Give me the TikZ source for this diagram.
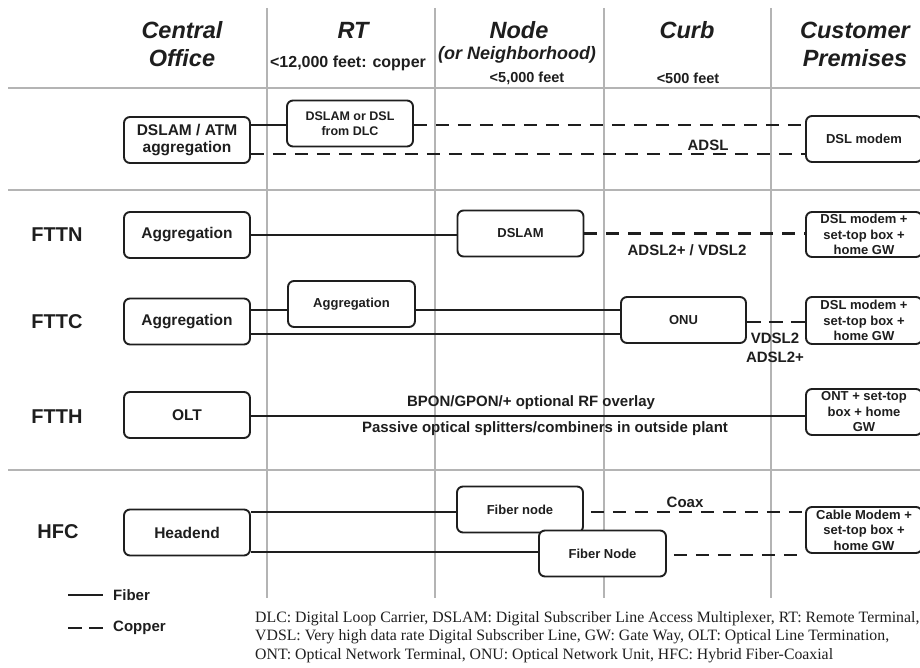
\documentclass[tikz,border=0pt]{standalone}
\usepackage{fontspec}
\setmainfont{Liberation Sans}
\newfontfamily\fnserif{Liberation Serif}
\definecolor{gridgray}{HTML}{B4B4B4}
\definecolor{ink}{HTML}{1E1E1E}
\tikzset{
  gridline/.style={draw=gridgray, line width=2.3pt},
  box/.style={draw=ink, line width=1.9pt, rounded corners=6pt, fill=white, align=center, inner sep=1pt, text=ink},
  cobox/.style={box, minimum width=126pt, minimum height=46pt, font=\fontsize{15.5}{17}\bfseries},
  smallbox/.style={box, minimum width=126pt, minimum height=46pt, font=\fontsize{13}{15.5}\bfseries},
  cpebox/.style={box, minimum width=116pt, minimum height=46pt, font=\fontsize{13}{15.5}\bfseries},
  fiber/.style={draw=ink, line width=2.5pt},
  copper/.style={draw=ink, line width=2.5pt, dash pattern=on 13pt off 9pt},
  hdr/.style={align=center, text=ink, font=\fontsize{23.5}{28}\bfseries\itshape, inner sep=0pt},
  sub/.style={align=center, text=ink, font=\fontsize{14.5}{17}\bfseries, inner sep=0pt},
  rowlbl/.style={text=ink, font=\fontsize{20}{24}\bfseries, inner sep=0pt},
  lbl/.style={text=ink, font=\fontsize{15}{18}\bfseries, inner sep=0pt, align=center},
}
\begin{document}
\begin{tikzpicture}[x=1pt,y=-1pt]
\useasboundingbox (0,0) rectangle (920,668);
\clip (0,0) rectangle (920,668);
% grid
\foreach \gx in {267,435,604,771} \draw[gridline] (\gx,8) -- (\gx,598);
\foreach \gy in {88,190,470} \draw[gridline] (8,\gy) -- (920,\gy);
% headers
\node[hdr] (hco) at (182,44) {Central\\Office};
\node[hdr] (hrt) at (353,30) {RT};
\node[sub, font=\fontsize{16}{18}\bfseries] (hrts) at (348,63) {<12,000 feet: copper};
\node[hdr] (hnode) at (519,30) {Node};
\node[hdr, font=\fontsize{18}{20}\bfseries\itshape] (hneigh) at (517,55) {(or Neighborhood)};
\node[sub] (hnodes) at (527,78) {<5,000 feet};
\node[hdr] (hcurb) at (687,30) {Curb};
\node[sub] (hcurbs) at (688,78) {<500 feet};
\node[hdr] (hcpe) at (855,44) {Customer\\Premises};
% row labels
\node[rowlbl] (lfttn) at (57,235) {FTTN};
\node[rowlbl] (lfttc) at (57,322) {FTTC};
\node[rowlbl] (lftth) at (57,417) {FTTH};
\node[rowlbl] (lhfc) at (58,532) {HFC};
% DSL row
\node[cobox] (co1) at (187,140) {DSLAM / ATM\\aggregation};
\node[smallbox, font=\fontsize{12.5}{15}\bfseries] (rt1) at (350,123.5) {DSLAM or DSL\\from DLC};
\node[cpebox] (cpe1) at (864,139) {DSL modem};
\draw[fiber] (co1.east |- rt1.west) ++(0,1.5) -- ([yshift=-1.5pt]rt1.west);
\draw[copper] ([yshift=-1.5pt]rt1.east) -- ([yshift=-1.5pt]rt1.east -| cpe1.west);
\draw[copper] ([yshift=-14pt]co1.east) -- ([yshift=-14pt]co1.east -| cpe1.west);
\node[lbl] (ladsl) at (708,145) {ADSL};
% FTTN
\node[cobox] (co2) at (187,235) {Aggregation};
\node[smallbox] (dslam) at (520.5,233.5) {DSLAM};
\node[cpebox, minimum height=45pt] (cpe2) at (864,234.5) {DSL modem +\\set-top box +\\home GW};
\draw[fiber] (co2.east) -- (co2.east -| dslam.west);
\draw[copper] (dslam.east) -- (dslam.east -| cpe2.west);
\node[lbl] (ladsl2) at (687,250) {ADSL2+ / VDSL2};
% FTTC
\node[cobox] (co3) at (187,321.5) {Aggregation};
\node[smallbox, minimum width=127pt] (rt3) at (351.5,304) {Aggregation};
\node[smallbox, minimum width=125pt] (onu) at (683.5,320) {ONU};
\node[cpebox, minimum height=47pt] (cpe3) at (864,320.5) {DSL modem +\\set-top box +\\home GW};
\draw[fiber] ([yshift=11.5pt]co3.east) -- ([yshift=11.5pt]co3.east -| rt3.west);
\draw[fiber] ([yshift=-6pt]rt3.east) -- ([yshift=-6pt]rt3.east -| onu.west);
\draw[fiber] ([yshift=-12.5pt]co3.east) -- ([yshift=-12.5pt]co3.east -| onu.west);
\draw[copper, dash pattern=on 14pt off 8pt] ([yshift=-2pt]onu.east) -- ([yshift=-2pt]onu.east -| cpe3.west);
\node[lbl, font=\fontsize{15}{19}\bfseries] (lvdsl) at (775,348) {VDSL2\\ADSL2+};
% FTTH
\node[cobox] (olt) at (187,415) {OLT};
\node[cpebox] (cpe4) at (864,412) {ONT + set-top\\box + home\\GW};
\draw[fiber] ([yshift=-1pt]olt.east) -- ([yshift=-1pt]olt.east -| cpe4.west);
\node[lbl] (lbpon) at (531,403) {BPON/GPON/+ optional RF overlay};
\node[lbl] (lpass) at (545,429) {Passive optical splitters/combiners in outside plant};
% HFC
\node[cobox] (head) at (187,532.5) {Headend};
\node[smallbox] (fn1) at (520,509.5) {Fiber node};
\node[smallbox, minimum width=127pt] (fn2) at (602.5,553.5) {Fiber Node};
\node[cpebox] (cpe5) at (864,530) {Cable Modem +\\set-top box +\\home GW};
\draw[fiber] ([yshift=20.5pt]head.east) -- ([yshift=20.5pt]head.east -| fn1.west);
\draw[fiber] ([yshift=-19.5pt]head.east) -- ([yshift=-19.5pt]head.east -| fn2.west);
\draw[copper] ([xshift=7pt,yshift=-2.5pt]fn1.east) -- ([yshift=-2.5pt]fn1.east -| cpe5.west);
\draw[copper] ([xshift=7pt,yshift=-1.5pt]fn2.east) -- ([yshift=-1.5pt]fn2.east -| cpe5.west);
\node[lbl] (lcoax) at (685,502) {Coax};
% legend
\coordinate (lf1) at (68,595); \coordinate (lf2) at (103,595);
\coordinate (lc1) at (68,628); \coordinate (lc2) at (103,628);
\draw[fiber] (lf1) -- (lf2);
\draw[copper, dash pattern=on 14pt off 7pt] (lc1) -- (lc2);
\node[lbl, anchor=west] (lfiber) at (113,595) {Fiber};
\node[lbl, anchor=west] (lcopper) at (113,628) {Copper};
% footnote
\node[anchor=north west, align=left, inner sep=0pt, text=ink, font=\fnserif\fontsize{15.8}{18.5}\selectfont] (fn) at (255,611) {DLC: Digital Loop Carrier, DSLAM: Digital Subscriber Line Access Multiplexer, RT: Remote Terminal,\\VDSL: Very high data rate Digital Subscriber Line, GW: Gate Way, OLT: Optical Line Termination,\\ONT: Optical Network Terminal, ONU: Optical Network Unit, HFC: Hybrid Fiber-Coaxial};
\end{tikzpicture}
\end{document}
